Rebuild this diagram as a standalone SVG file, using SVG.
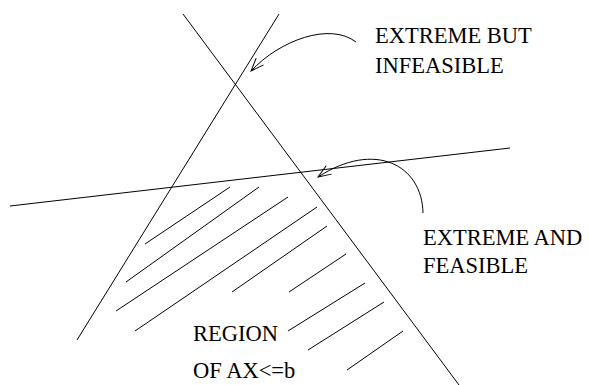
<svg xmlns="http://www.w3.org/2000/svg" width="589" height="385" viewBox="0 0 589 385">
<style>
.ln{stroke:#000;stroke-width:1;fill:none}
.t{font-family:"Liberation Serif","Times New Roman",serif;font-size:22.5px;fill:#000}
</style>
<defs>
<marker id="ah" markerUnits="userSpaceOnUse" markerWidth="16" markerHeight="12" refX="13" refY="5" orient="auto" overflow="visible">
<path d="M0,0 L13,5 L0,10" fill="none" stroke="#000" stroke-width="1"/>
</marker>
</defs>
<g id="connectors">
<line class="ln" x1="279" y1="14" x2="77" y2="340"/>
<line class="ln" x1="183" y1="14" x2="459" y2="385"/>
<line class="ln" x1="10" y1="206" x2="510" y2="148"/>
<path class="ln" d="M356,42 C330,22 280,40 251,71" marker-end="url(#ah)"/>
<path class="ln" d="M423,213 C422,165 375,140 318,177" marker-end="url(#ah)"/>
</g>
<g id="hatch">
<line class="ln" x1="145" y1="244" x2="230" y2="187"/>
<line class="ln" x1="126" y1="282" x2="259" y2="187"/>
<line class="ln" x1="116" y1="311" x2="288" y2="197"/>
<line class="ln" x1="135" y1="331" x2="317" y2="207"/>
<line class="ln" x1="232" y1="292" x2="327" y2="226"/>
<line class="ln" x1="289" y1="292" x2="346" y2="254"/>
<line class="ln" x1="288" y1="331" x2="365" y2="283"/>
<line class="ln" x1="308" y1="350" x2="384" y2="302"/>
<line class="ln" x1="347" y1="370" x2="403" y2="331"/>
</g>
<g id="label-infeasible">
<text class="t" x="375" y="43">EXTREME BUT</text>
<text class="t" x="375" y="73">INFEASIBLE</text>
</g>
<g id="label-feasible">
<text class="t" x="423" y="245">EXTREME AND</text>
<text class="t" x="423" y="273">FEASIBLE</text>
</g>
<g id="label-region">
<text class="t" x="193" y="341">REGION</text>
<text class="t" x="193" y="378">OF AX&lt;=b</text>
</g>
</svg>
